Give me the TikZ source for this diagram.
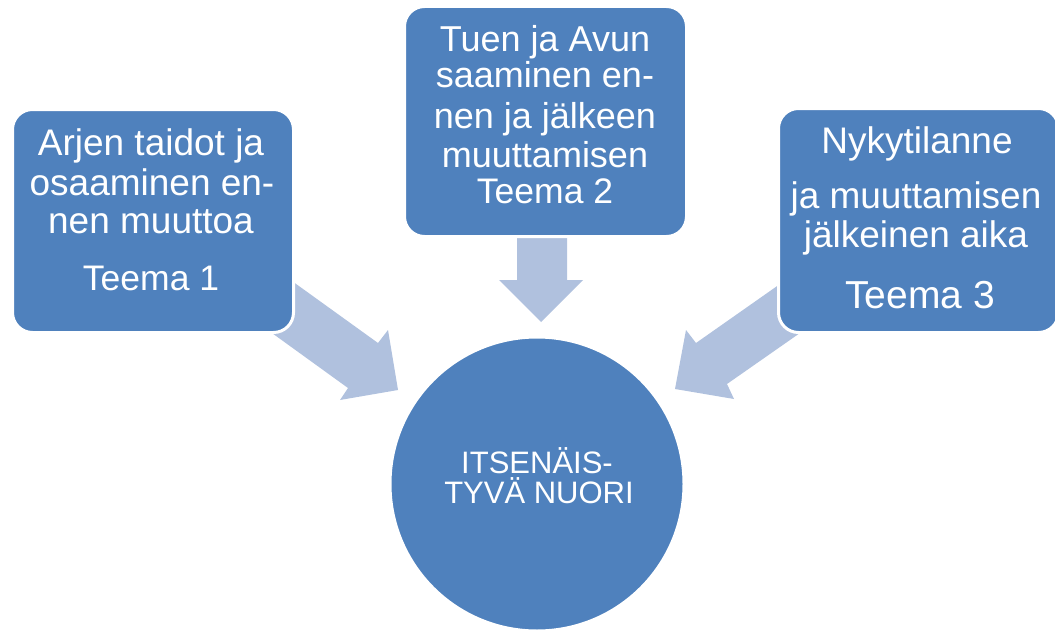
\documentclass[tikz,border=0pt]{standalone}
\usepackage{fontspec}
\setmainfont{Liberation Sans}
\definecolor{boxblue}{HTML}{4F81BD}
\definecolor{arrowblue}{HTML}{B0C1DE}
\tikzset{
  themebox/.style={draw=white, line width=3pt, fill=boxblue, rounded corners=20pt},
  blockarrow/.style={fill=arrowblue, draw=none},
  boxtext/.style={anchor=base, text=white, inner sep=0pt, font=\fontsize{37}{40}\selectfont},
  midtext/.style={anchor=base, text=white, inner sep=0pt, font=\fontsize{36}{40}\selectfont},
  teematext/.style={anchor=base, text=white, inner sep=0pt, font=\fontsize{35.5}{40}\selectfont},
  centertext/.style={anchor=base, text=white, inner sep=0pt, font=\fontsize{31}{31}\selectfont},
}
\begin{document}
\begin{tikzpicture}[x=1pt,y=-1pt]
\useasboundingbox (0,0) rectangle (1055,634);
% block arrows (drawn first, partly hidden by boxes)
\path[blockarrow] (285,276) -- (378,343) -- (388,330) -- (398,390) -- (340,400) -- (348,388) -- (265,328) -- cycle;
\path[blockarrow] (517,228) -- (567,228) -- (567,280) -- (583,280) -- (541,322) -- (499,280) -- (517,280) -- cycle;
\path[blockarrow] (790,277) -- (696,343) -- (686,330) -- (675,389) -- (734,399) -- (727,384) -- (810,326) -- cycle;
% boxes
\node[themebox, minimum width=281pt, minimum height=223pt, anchor=north west] (b1) at (11,108) {};
\node[themebox, minimum width=282pt, minimum height=230pt, anchor=north west] (b2) at (403,5) {};
\node[themebox, minimum width=280pt, minimum height=224pt, anchor=north west] (b3) at (777,107) {};
% centre circle
\node[circle, draw=white, line width=3pt, fill=boxblue, minimum size=294pt, inner sep=0pt] (c) at (537,484) {};
% texts box 1
\node[boxtext] (t1a) at (151,155) {Arjen taidot ja};
\node[boxtext] (t1b) at (152,195) {osaaminen en-};
\node[boxtext] (t1c) at (151,233) {nen muuttoa};
\node[teematext] (t1d) at (151,290) {Teema 1};
% texts box 2
\node[midtext] (t2a) at (545,52) {Tuen ja Avun};
\node[midtext] (t2b) at (545,88) {saaminen en-};
\node[midtext] (t2c) at (545,128) {nen ja jälkeen};
\node[midtext] (t2d) at (545,167) {muuttamisen};
\node[teematext] (t2e) at (545,203) {Teema 2};
% texts box 3
\node[boxtext] (t3a) at (917,153) {Nykytilanne};
\node[boxtext] (t3b) at (916,208) {ja muuttamisen};
\node[boxtext] (t3c) at (916,247) {jälkeinen aika};
\node[boxtext, font=\fontsize{39}{40}\selectfont] (t3d) at (920,308) {Teema 3};
% circle text
\node[centertext] (ca) at (537,473) {ITSENÄIS-};
\node[centertext] (cb) at (539,503) {TYVÄ NUORI};
\end{tikzpicture}
\end{document}
